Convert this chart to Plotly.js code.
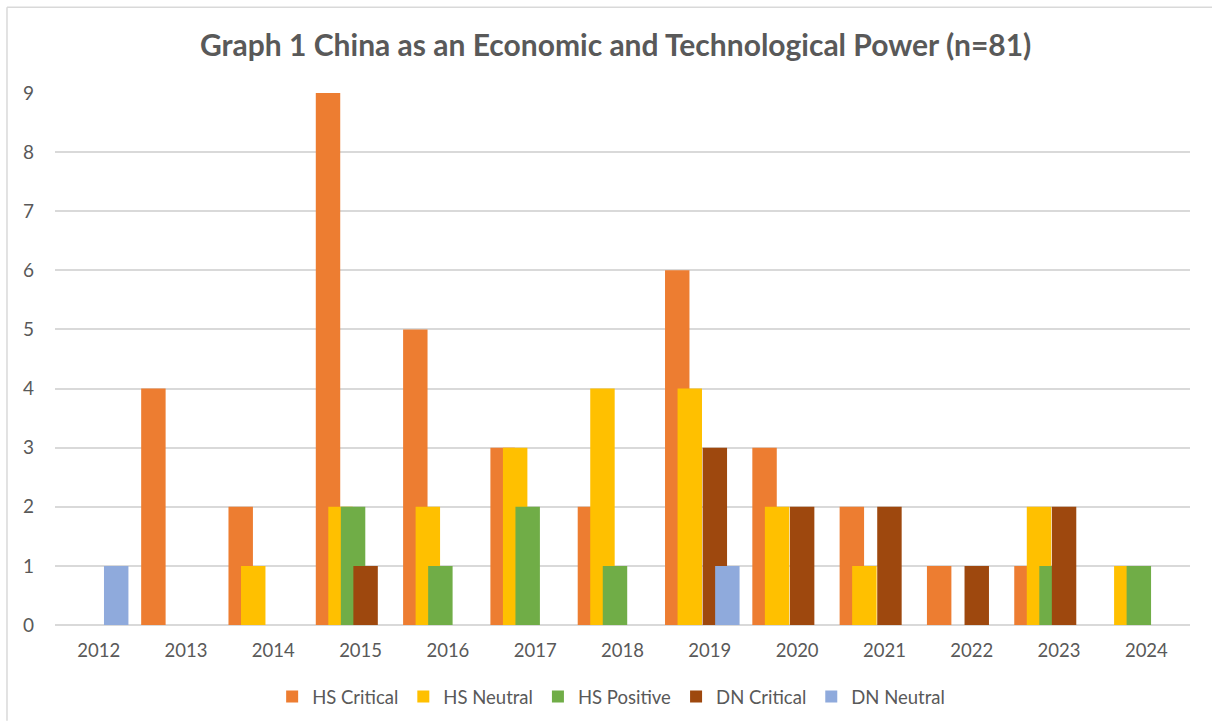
<!DOCTYPE html>
<html>
<head>
<meta charset="utf-8">
<script src="https://cdn.plot.ly/plotly-3.0.1.min.js"></script>
<style>html,body{margin:0;padding:0;background:#fff;}#chart{width:1212px;height:727px;}</style>
</head>
<body>
<div id="chart"></div>
<script>
var years = ["2012","2013","2014","2015","2016","2017","2018","2019","2020","2021","2022","2023","2024"];
var hsCritical = [0,4,2,9,5,3,2,6,3,2,1,1,0];
var hsNeutral  = [0,0,1,2,2,3,4,4,2,1,0,2,1];
var hsPositive = [0,0,0,2,1,2,1,0,0,0,0,1,1];
var dnCritical = [0,0,0,1,0,0,0,3,2,2,1,2,0];
var dnNeutral  = [1,0,0,0,0,0,0,1,0,0,0,0,0];
var seriesNames = ["HS Critical","HS Neutral","HS Positive","DN Critical","DN Neutral"];
var yTicks = [0,1,2,3,4,5,6,7,8,9];

var colors = ["#ED7D31","#FFC000","#70AD47","#9E480E","#8FAADC"];
var values = [hsCritical, hsNeutral, hsPositive, dnCritical, dnNeutral];
var barW = 0.28, step = 0.1435, start = -0.513;
var idx = years.map(function(_, i){ return i; });

var traces = values.map(function(v, k){
  return {
    type: 'bar', name: seriesNames[k], x: idx, y: v.map(function(d){ return d === 0 ? null : d; }),
    width: barW, offset: start + k*step,
    marker: {color: colors[k], line: {width: 0}},
    hoverinfo: 'x+y+name'
  };
});

var font = "Lato, 'Liberation Sans', Arial, sans-serif";
var layout = {
  width: 1212, height: 727,
  margin: {l: 55, r: 22, t: 93, b: 101},
  paper_bgcolor: '#ffffff', plot_bgcolor: '#ffffff',
  barmode: 'overlay',
  showlegend: true,
  title: {text: 'Graph 1 China as an Economic and Technological Power (n=81)',
          font: {family: font, size: 30, color: '#595959', weight: 'bold'},
          x: 0.508, xanchor: 'center', y: 0.937, yanchor: 'middle'},
  xaxis: {range: [-0.5, 12.5], tickmode: 'array', tickvals: idx, ticktext: years,
          showgrid: false, zeroline: false, showline: false, ticks: '',
          ticklabelstandoff: 12,
          tickfont: {family: font, size: 18.5, color: '#595959'}},
  yaxis: {range: [0, 9], tickmode: 'array', tickvals: yTicks, ticktext: yTicks.map(String),
          showgrid: true, gridcolor: '#d9d9d9', gridwidth: 1.5,
          zeroline: true, zerolinecolor: '#d9d9d9', zerolinewidth: 1.5,
          showline: false, ticks: '', ticklabelstandoff: 20,
          tickfont: {family: font, size: 19, color: '#595959'}},
  legend: {orientation: 'h', x: 0.49, xanchor: 'center', y: -0.133, yanchor: 'middle',
           font: {family: font, size: 18.5, color: '#595959'}, itemclick: false, traceorder: 'normal'},
  shapes: [
    {type: 'line', xref: 'paper', yref: 'paper', x0: -0.0423, x1: 1.05, y0: 1.1614, y1: 1.1614,
     line: {color: '#d9d9d9', width: 1.5}},
    {type: 'line', xref: 'paper', yref: 'paper', x0: -0.0423, x1: -0.0423, y0: 1.1614, y1: -0.18,
     line: {color: '#d9d9d9', width: 1.5}}
  ]
};
Plotly.newPlot('chart', traces, layout, {displayModeBar: false, responsive: false});
</script>
</body>
</html>
